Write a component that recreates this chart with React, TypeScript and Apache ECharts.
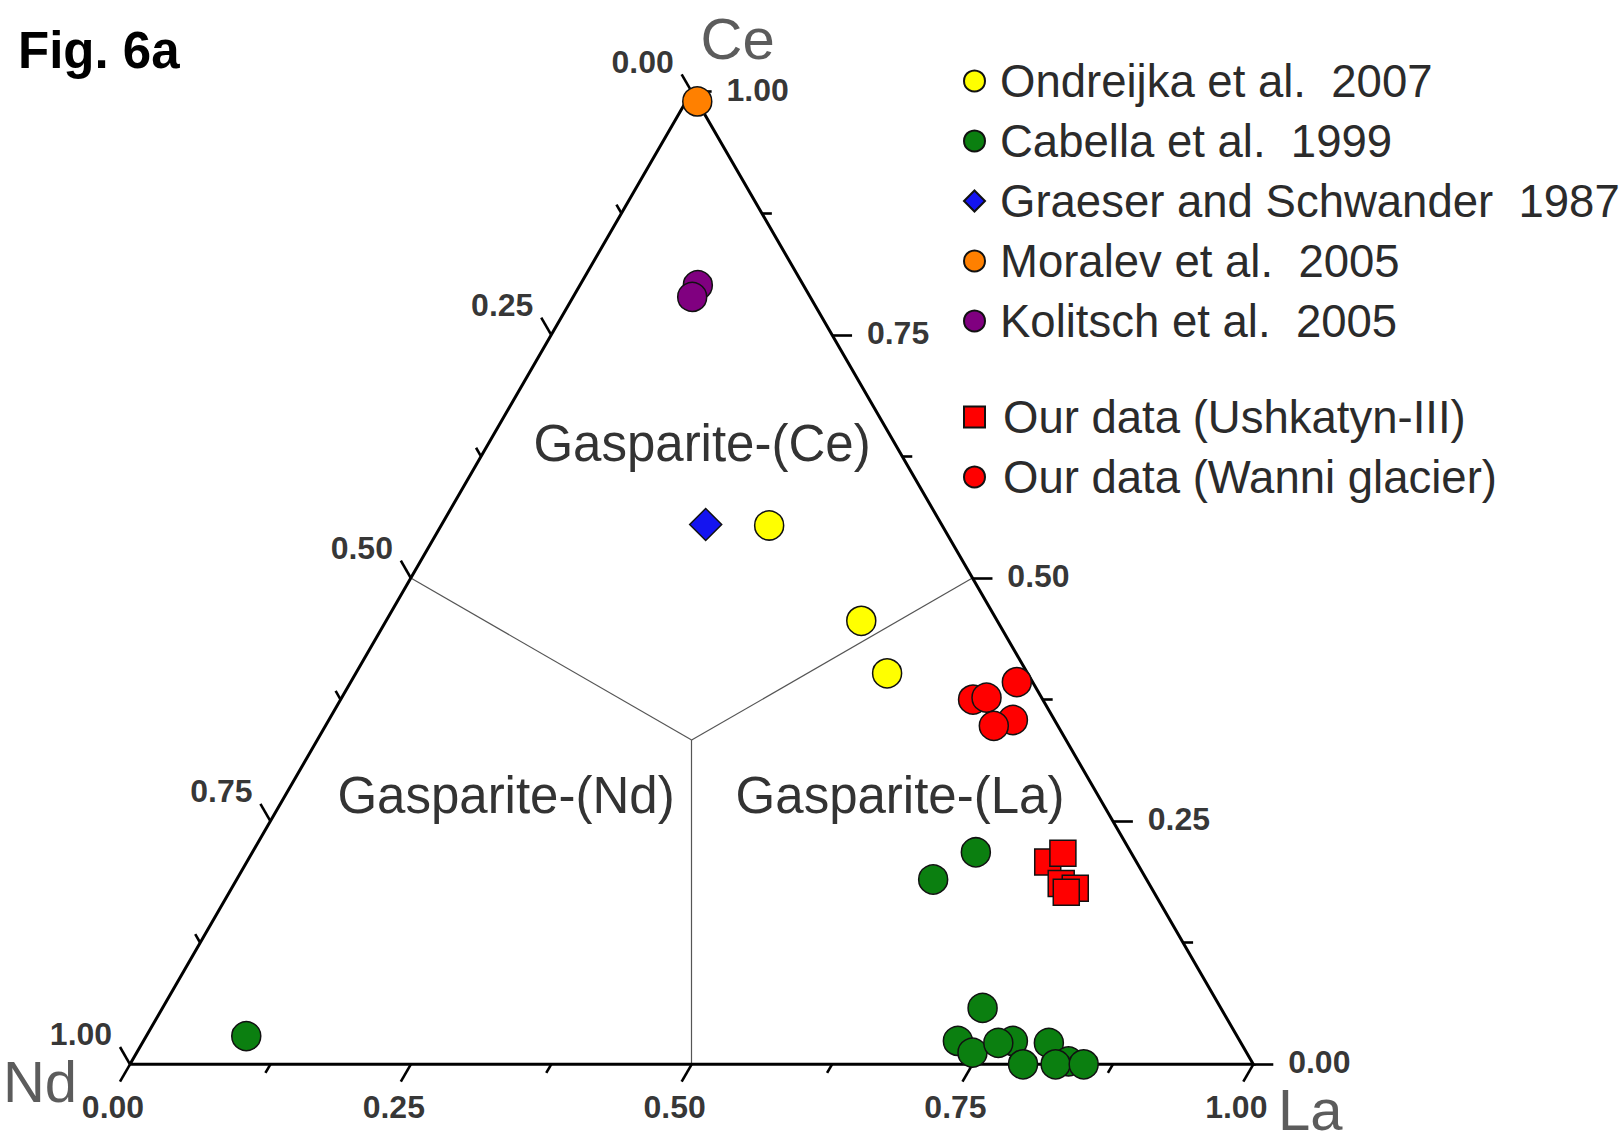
import React, { useEffect, useRef } from 'react';
import * as echarts from 'echarts';

// Compositions, as [La, Ce, Nd] fractions
const ondreijka = [[0.292, 0.554, 0.154], [0.423, 0.456, 0.121], [0.473, 0.402, 0.125]];
const cabella = [
  [0.089, 0.029, 0.882], [0.620, 0.190, 0.190], [0.644, 0.218, 0.138],
  [0.730, 0.058, 0.212], [0.725, 0.024, 0.251], [0.744, 0.012, 0.244],
  [0.774, 0.024, 0.202], [0.762, 0.022, 0.216], [0.795, 0.000, 0.205],
  [0.807, 0.022, 0.171], [0.834, 0.003, 0.163], [0.824, 0.000, 0.176],
  [0.849, 0.000, 0.151],
];
const graeser = [[0.235, 0.555, 0.210]];
const moralev = [[0.010, 0.990, 0.000]];
const kolitsch = [[0.105, 0.801, 0.094], [0.106, 0.789, 0.105]];
const ushkatyn = [[0.713, 0.208, 0.079], [0.722, 0.217, 0.061], [0.736, 0.186, 0.078], [0.751, 0.181, 0.068], [0.745, 0.177, 0.078]];
const wanni = [[0.593, 0.393, 0.014], [0.563, 0.375, 0.062], [0.574, 0.377, 0.049], [0.609, 0.354, 0.037], [0.595, 0.348, 0.057]];

const seriesNames = [
  'Ondreijka et al.  2007',
  'Cabella et al.  1999',
  'Graeser and Schwander  1987',
  'Moralev et al.  2005',
  'Kolitsch et al.  2005',
  'Our data (Ushkatyn-III)',
  'Our data (Wanni glacier)',
];

const tickValues = [0, 0.125, 0.25, 0.375, 0.5, 0.625, 0.75, 0.875, 1];
const labelValues = [0, 0.25, 0.5, 0.75, 1];
const tickLabels = ['0.00', '0.25', '0.50', '0.75', '1.00'];
const apexNames = ['Nd', 'La', 'Ce'];
const fieldNames = ['Gasparite-(Ce)', 'Gasparite-(Nd)', 'Gasparite-(La)'];

const FONT = "'Liberation Sans', Arial, Helvetica, sans-serif";
const H = Math.sqrt(3) / 2;

// ternary [La, Ce, Nd] -> cartesian (Nd corner at origin, La at (1,0))
const toXY = (c: number[]) => {
  const [la, ce, nd] = c;
  const s = la + ce + nd;
  return [(la + ce / 2) / s, (ce * H) / s];
};

export default function App() {
  const ref = useRef<HTMLDivElement>(null);

  useEffect(() => {
    const chart = echarts.init(ref.current!, null, { renderer: 'svg' });

    const major = 0.0178;
    const minor = 0.0089;
    const isMajor = (t: number) => labelValues.indexOf(t) >= 0;

    const tickSegs: number[][][] = [];
    tickValues.forEach((t) => {
      const d = isMajor(t) ? major : minor;
      // bottom axis (La)
      tickSegs.push([toXY([t, 0, 1 - t]), toXY([t, -d, 1 - t + d])]);
      // left axis (Nd)
      tickSegs.push([toXY([0, 1 - t, t]), toXY([-d, 1 - t + d, t])]);
      // right axis (Ce)
      tickSegs.push([toXY([1 - t, t, 0]), toXY([1 - t + d, t, -d])]);
    });

    const centroid = toXY([1, 1, 1]);
    const fieldSegs = [
      [centroid, toXY([0, 0.5, 0.5])],
      [centroid, toXY([0.5, 0.5, 0])],
      [centroid, toXY([0.5, 0, 0.5])],
    ];

    const outline = [toXY([0, 0, 1]), toXY([1, 0, 0]), toXY([0, 1, 0]), toXY([0, 0, 1])];

    const labelSeries = (anchors: number[][], offset: number[]) => ({
      type: 'scatter',
      silent: true,
      clip: false,
      symbol: 'circle',
      symbolSize: 1,
      itemStyle: { color: 'rgba(0,0,0,0)' },
      z: 6,
      data: anchors.map((a, i) => ({ value: toXY(a), name: tickLabels[i] })),
      label: {
        show: true,
        position: 'inside',
        offset,
        formatter: '{b}',
        fontFamily: FONT,
        fontSize: 32,
        fontWeight: 'bold',
        color: '#000',
      },
    });

    const mk = (name: string, data: number[][], symbol: string, size: number, color: string) => ({
      type: 'scatter',
      name,
      data: data.map(toXY),
      symbol,
      symbolSize: size,
      clip: false,
      z: 5,
      itemStyle: { color, borderColor: '#111', borderWidth: 1.5, opacity: 1 },
    });

    const legendText = { fontFamily: FONT, fontSize: 45.5, color: '#2b2b2b' };

    const option: any = {
      animation: false,
      backgroundColor: '#ffffff',
      grid: { left: 130, top: 91.7, width: 1123.3, height: 972.6, containLabel: false },
      xAxis: { type: 'value', min: 0, max: 1, show: false },
      yAxis: { type: 'value', min: 0, max: H, show: false },
      legend: [
        {
          orient: 'vertical',
          left: 963,
          top: 58,
          padding: 0,
          itemWidth: 21,
          itemHeight: 21,
          itemGap: 14,
          selectedMode: false,
          data: seriesNames.slice(0, 5),
          textStyle: { ...legendText, lineHeight: 45, padding: [0, 0, 0, 10] },
        },
        {
          orient: 'vertical',
          left: 963,
          top: 394,
          padding: 0,
          itemWidth: 21,
          itemHeight: 21,
          itemGap: 14,
          selectedMode: false,
          data: seriesNames.slice(5),
          textStyle: { ...legendText, lineHeight: 45, padding: [0, 0, 0, 13] },
        },
      ],
      graphic: [
        {
          type: 'text', x: 18, y: 50,
          style: { text: 'Fig. 6a', fontFamily: FONT, fontSize: 51, fontWeight: 'bold', fill: '#000', align: 'left', verticalAlign: 'middle' },
        },
        {
          type: 'text', x: 702, y: 443,
          style: { text: fieldNames[0], fontFamily: FONT, fontSize: 51, fill: '#333', align: 'center', verticalAlign: 'middle' },
        },
        {
          type: 'text', x: 506, y: 795,
          style: { text: fieldNames[1], fontFamily: FONT, fontSize: 51, fill: '#333', align: 'center', verticalAlign: 'middle' },
        },
        {
          type: 'text', x: 900, y: 795,
          style: { text: fieldNames[2], fontFamily: FONT, fontSize: 51, fill: '#333', align: 'center', verticalAlign: 'middle' },
        },
      ],
      series: [
        {
          type: 'lines',
          coordinateSystem: 'cartesian2d',
          silent: true,
          clip: false,
          z: 2,
          data: fieldSegs.map((c) => ({ coords: c })),
          lineStyle: { color: '#555', width: 1.2, opacity: 1, curveness: 0 },
        },
        {
          type: 'line',
          silent: true,
          clip: false,
          symbol: 'none',
          z: 3,
          data: outline,
          lineStyle: { color: '#000', width: 3, join: 'miter' },
        },
        {
          type: 'lines',
          coordinateSystem: 'cartesian2d',
          silent: true,
          clip: false,
          z: 3,
          data: tickSegs.map((c) => ({ coords: c })),
          lineStyle: { color: '#000', width: 2.6, opacity: 1, curveness: 0 },
        },
        labelSeries(labelValues.map((t) => [t, 0, 1 - t]), [-17, 43]),
        labelSeries(labelValues.map((t) => [0, 1 - t, t]), [-49, -30]),
        labelSeries(labelValues.map((t) => [1 - t, t, 0]), [66, -2]),
        {
          type: 'scatter',
          silent: true,
          clip: false,
          symbol: 'circle',
          symbolSize: 1,
          itemStyle: { color: 'rgba(0,0,0,0)' },
          z: 6,
          data: [
            { value: toXY([0, 0, 1]), name: apexNames[0], label: { offset: [-90, 17] } },
            { value: toXY([1, 0, 0]), name: apexNames[1], label: { offset: [57, 45] } },
            { value: toXY([0, 1, 0]), name: apexNames[2], label: { offset: [46, -53] } },
          ],
          label: {
            show: true,
            position: 'inside',
            formatter: '{b}',
            fontFamily: FONT,
            fontSize: 58,
            lineHeight: 58,
            color: '#333',
          },
        },
        mk(seriesNames[0], ondreijka, 'circle', 29, '#ffff00'),
        mk(seriesNames[1], cabella, 'circle', 29, '#0b7f10'),
        mk(seriesNames[2], graeser, 'diamond', 32, '#1414f0'),
        mk(seriesNames[3], moralev, 'circle', 29, '#ff8000'),
        mk(seriesNames[4], kolitsch, 'circle', 29, '#800080'),
        mk(seriesNames[5], ushkatyn, 'rect', 26, '#ff0000'),
        mk(seriesNames[6], wanni, 'circle', 29, '#ff0000'),
      ],
    };

    chart.setOption(option);
    return () => chart.dispose();
  }, []);

  return (
    <div
      ref={ref}
      style={{ position: 'fixed', left: 0, top: 0, width: '1623px', height: '1142px', background: '#fff' }}
    />
  );
}
